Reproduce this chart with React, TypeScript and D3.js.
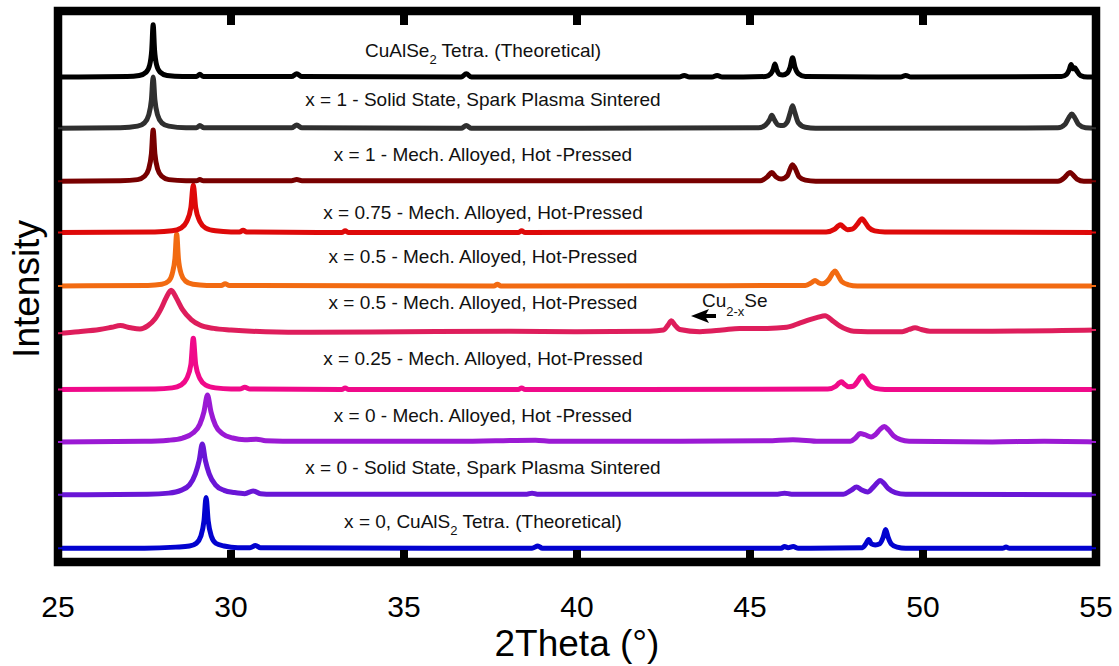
import React from "react";
import * as d3 from "d3";

type Pt = [number, number];

// 2Theta tick labels
const xTicks = [25, 30, 35, 40, 45, 50, 55];

// Series labels (top to bottom)
const labels = [
  "CuAlSe|2| Tetra. (Theoretical)",
  "x = 1 - Solid State, Spark Plasma Sintered",
  "x = 1 - Mech. Alloyed, Hot -Pressed",
  "x = 0.75 - Mech. Alloyed, Hot-Pressed",
  "x = 0.5 - Mech. Alloyed, Hot-Pressed",
  "x = 0.5 - Mech. Alloyed, Hot-Pressed",
  "x = 0.25 - Mech. Alloyed, Hot-Pressed",
  "x = 0 - Mech. Alloyed, Hot -Pressed",
  "x = 0 - Solid State, Spark Plasma Sintered",
  "x = 0, CuAlS|2| Tetra. (Theoretical)",
];

const colors = [
  "#000000", "#303030", "#780000", "#de0a0a", "#f26b12",
  "#de1e5c", "#f00a8a", "#9b1ad4", "#6a16d6", "#0303cf",
];

// vertical offsets (a.u.) of each pattern
const offsets = [880, 787, 691, 598, 501, 416, 313, 218, 122, 25];
// label positions in same a.u. (baseline of text)
const labelY = [916, 828, 727, 623, 543, 459, 357, 254, 160, 62];

const cuAlSe2Theo: Pt[] = [
  [25, 0], [27.0, 1], [27.35, 3], [27.55, 9], [27.65, 22], [27.71, 50], [27.75, 95], [27.79, 50], [27.85, 22], [27.95, 9], [28.15, 3], [28.6, 1],
  [29.0, 1], [29.1, 5], [29.2, 1], [31.75, 1], [31.9, 6], [32.05, 1], [36.65, 0], [36.8, 6], [36.95, 0],
  [42.95, 0], [43.1, 3], [43.25, 0], [43.9, 0], [44.05, 3], [44.2, 0],
  [45.45, 1], [45.6, 6], [45.67, 14], [45.72, 24], [45.77, 14], [45.85, 5], [45.95, 4], [46.07, 7], [46.16, 18], [46.23, 35], [46.3, 18], [46.4, 6], [46.6, 1],
  [49.35, 0], [49.5, 3], [49.65, 0],
  [54.0, 1], [54.15, 5], [54.23, 14], [54.28, 23], [54.34, 15], [54.39, 17], [54.44, 12], [54.55, 3], [54.75, 0], [55, 0],
];

const x1SSPS: Pt[] = [
  [25, 0], [26.8, 1], [27.3, 4], [27.5, 10], [27.62, 24], [27.7, 52], [27.75, 93], [27.8, 52], [27.88, 24], [28.0, 10], [28.2, 4], [28.7, 1],
  [29.0, 1], [29.1, 5], [29.22, 1], [31.75, 1], [31.9, 6], [32.05, 1], [36.65, 0], [36.8, 5], [36.95, 0],
  [45.25, 1], [45.45, 6], [45.57, 16], [45.63, 24], [45.7, 16], [45.82, 6], [45.95, 5], [46.08, 12], [46.17, 30], [46.23, 41], [46.29, 30], [46.4, 10], [46.6, 2], [46.9, 0],
  [53.9, 1], [54.1, 7], [54.22, 20], [54.3, 26], [54.38, 20], [54.5, 7], [54.7, 1], [55, 0],
];

const x1MAHP: Pt[] = [
  [25, 0], [26.8, 1], [27.3, 3], [27.5, 9], [27.62, 22], [27.7, 50], [27.75, 93], [27.8, 50], [27.88, 22], [28.0, 9], [28.2, 3], [28.7, 1],
  [29.0, 1], [29.1, 3], [29.2, 1], [31.75, 1], [31.9, 3], [32.05, 1],
  [45.3, 1], [45.5, 8], [45.63, 16], [45.75, 8], [45.9, 4], [46.08, 10], [46.17, 24], [46.23, 30], [46.3, 24], [46.42, 8], [46.6, 2], [46.9, 0],
  [53.9, 0], [54.08, 6], [54.18, 13], [54.25, 16], [54.33, 12], [54.45, 4], [54.65, 0], [55, 0],
];

const x075MAHP: Pt[] = [
  [25, 0], [27.8, 1], [28.3, 3], [28.55, 8], [28.72, 20], [28.84, 45], [28.91, 86], [28.98, 45], [29.1, 20], [29.27, 8], [29.55, 3], [30.0, 1],
  [30.25, 1], [30.35, 4], [30.45, 1], [33.2, 0], [33.3, 3], [33.4, 0], [38.3, 0], [38.4, 3], [38.5, 0],
  [47.2, 1], [47.45, 6], [47.55, 12], [47.62, 14], [47.7, 10], [47.82, 5], [47.95, 6], [48.1, 15], [48.18, 22], [48.24, 25], [48.31, 20], [48.43, 9], [48.6, 3], [48.9, 1], [55, 0],
];

const x05MAHPa: Pt[] = [
  [25, 0], [27.6, 1], [28.0, 3], [28.2, 9], [28.3, 22], [28.38, 50], [28.43, 94], [28.48, 50], [28.56, 22], [28.68, 9], [28.9, 3], [29.3, 1],
  [29.72, 1], [29.83, 4], [29.95, 1], [37.6, 0], [37.7, 3], [37.8, 0],
  [46.6, 1], [46.78, 6], [46.88, 10], [46.98, 6], [47.1, 4], [47.28, 12], [47.4, 24], [47.46, 27], [47.52, 22], [47.65, 8], [47.85, 2], [48.1, 0], [55, 0],
];

const x05MAHPb: Pt[] = [
  [25, -1], [25.6, 2], [26.2, 6], [26.55, 10], [26.8, 13], [27.1, 9], [27.37, 7], [27.6, 13], [27.8, 25], [27.98, 44], [28.13, 64], [28.27, 77], [28.42, 63], [28.6, 42], [28.85, 24], [29.1, 14], [29.5, 8], [30.0, 5], [31.0, 2], [32.3, 1],
  [35, 2], [38, 3], [40, 2], [42.1, 3], [42.5, 5], [42.63, 14], [42.73, 22], [42.83, 14], [42.97, 6], [43.55, 2], [44.2, 5], [44.7, 8], [45.5, 8],
  [46.06, 10], [46.45, 18], [46.73, 24], [46.95, 28], [47.17, 31], [47.38, 22], [47.6, 12], [48.0, 3], [48.8, 2], [49.4, 2], [49.6, 6], [49.77, 9], [49.95, 6], [50.2, 3], [52, 3], [55, 5],
];

const x025MAHP: Pt[] = [
  [25, 0], [27.8, 1], [28.3, 3], [28.55, 8], [28.72, 20], [28.84, 45], [28.91, 93], [28.98, 45], [29.1, 20], [29.27, 8], [29.55, 3], [30.0, 1],
  [30.25, 1], [30.4, 4], [30.55, 1], [33.2, 0], [33.3, 3], [33.4, 0], [38.3, 0], [38.4, 3], [38.5, 0],
  [47.25, 1], [47.48, 6], [47.58, 12], [47.65, 14], [47.72, 10], [47.85, 5], [47.98, 6], [48.12, 16], [48.2, 23], [48.25, 25], [48.32, 20], [48.45, 8], [48.62, 2], [48.9, 0], [55, 0],
];

const x0MAHP: Pt[] = [
  [25, 0], [27.5, 1], [28.2, 3], [28.6, 7], [28.9, 16], [29.1, 32], [29.22, 55], [29.32, 85], [29.42, 55], [29.55, 30], [29.75, 15], [30.05, 7], [30.4, 4],
  [30.74, 5], [31.0, 2], [32, 1], [36.5, 1], [38.8, 3], [39.3, 1], [43.0, 1], [45.5, 2], [46.24, 4], [47, 1],
  [47.9, 1], [48.05, 7], [48.18, 15], [48.32, 13], [48.5, 9], [48.62, 13], [48.75, 22], [48.88, 28], [49.0, 22], [49.15, 11], [49.35, 4], [49.6, 1], [52, 0], [53.5, 1], [55, 0],
];

const x0SSPS: Pt[] = [
  [25, 0], [27.6, 1], [28.2, 3], [28.55, 8], [28.8, 18], [28.97, 38], [29.08, 62], [29.17, 92], [29.26, 62], [29.37, 38], [29.55, 18], [29.8, 8], [30.1, 4], [30.4, 2],
  [30.64, 7], [30.85, 2], [31.2, 1], [38.55, 1], [38.7, 3], [38.85, 1], [45.8, 1], [46.0, 3], [46.2, 1],
  [47.7, 1], [47.92, 8], [48.08, 14], [48.22, 9], [48.4, 5], [48.55, 13], [48.68, 22], [48.76, 26], [48.85, 22], [49.0, 11], [49.2, 4], [49.5, 1], [55, 0],
];

const cuAlS2Theo: Pt[] = [
  [25, 0], [27.5, 0], [28.4, 2], [28.8, 4], [29.0, 9], [29.13, 22], [29.22, 50], [29.28, 92], [29.34, 50], [29.43, 22], [29.56, 9], [29.8, 4], [30.2, 1],
  [30.55, 1], [30.71, 5], [30.85, 1], [38.7, 0], [38.87, 4], [39.0, 0], [45.9, 0], [46.0, 3], [46.1, 1], [46.25, 3], [46.4, 0],
  [48.25, 1], [48.35, 8], [48.43, 16], [48.51, 8], [48.62, 6], [48.75, 8], [48.85, 20], [48.92, 34], [48.99, 20], [49.08, 8], [49.25, 2], [49.5, 0],
  [52.3, 0], [52.4, 2], [52.5, 0], [55, 0],
];

const series: Pt[][] = [
  cuAlSe2Theo, x1SSPS, x1MAHP, x075MAHP, x05MAHPa, x05MAHPb, x025MAHP, x0MAHP, x0SSPS, cuAlS2Theo,
];

const W = 1119;
const H = 666;
const L = 58, R = 1096, T = 11, B = 562;
const FONT = "'Liberation Sans', Arial, Helvetica, sans-serif";

function Label({ text, x, y }: { text: string; x: number; y: number }) {
  const parts = text.split("|");
  return (
    <text x={x} y={y} textAnchor="middle" fontSize={19} fontFamily={FONT} fill="#111">
      {parts.map((p, i) =>
        i % 2 === 1 ? (
          <tspan key={i} fontSize={13} dy={7}>{p}</tspan>
        ) : (
          <tspan key={i} dy={i === 0 ? 0 : -7}>{p}</tspan>
        )
      )}
    </text>
  );
}

export default function App() {
  const x = d3.scaleLinear().domain([25, 55]).range([L, R]);
  const y = d3.scaleLinear().domain([0, 1000]).range([B, T]);

  const order = d3.range(series.length).reverse();
  const mkLine = (off: number) =>
    d3
      .line<Pt>()
      .x((d) => x(d[0]))
      .y((d) => y(off + d[1]))
      .curve(d3.curveMonotoneX);

  const inner = x.ticks(6).filter((t) => t > 25 && t < 55);

  return (
    <svg width={W} height={H} style={{ position: "absolute", left: 0, top: 0, background: "#fff" }}>
      <defs>
        <clipPath id="plot">
          <rect x={L} y={0} width={R - L} height={B + 4} />
        </clipPath>
      </defs>
      <rect x={0} y={0} width={W} height={H} fill="#fff" />
      <g clipPath="url(#plot)">
        {order.map((i) => (
          <path key={i} d={mkLine(offsets[i])(series[i]) || ""} fill="none" stroke={colors[i]} strokeWidth={5} strokeLinejoin="round" />
        ))}
      </g>
      {/* frame */}
      <rect x={L} y={T} width={R - L} height={B - T} fill="none" stroke="#000" strokeWidth={8.5} />
      {/* thin overlay on frame edges */}
      <g clipPath="url(#plot)">
        {order.map((i) => (
          <path key={i} d={mkLine(offsets[i])(series[i]) || ""} fill="none" stroke={colors[i]} strokeWidth={2} />
        ))}
      </g>
      {/* ticks */}
      {inner.map((t) => (
        <g key={t}>
          <line x1={x(t)} x2={x(t)} y1={T} y2={T + 14} stroke="#000" strokeWidth={8} />
          <line x1={x(t)} x2={x(t)} y1={B} y2={B - 12} stroke="#000" strokeWidth={8} />
        </g>
      ))}
      {xTicks.map((t) => (
        <text key={t} x={x(t)} y={617} textAnchor="middle" fontSize={30} fontFamily={FONT} fill="#000">
          {t}
        </text>
      ))}
      <text x={(L + R) / 2} y={656} textAnchor="middle" fontSize={37} fontFamily={FONT} fill="#000">
        2Theta (°)
      </text>
      <text transform={`translate(38.5,289) rotate(-90)`} textAnchor="middle" fontSize={37} fontFamily={FONT} fill="#000">
        Intensity
      </text>
      {labels.map((lab, i) => (
        <Label key={i} text={lab} x={483} y={y(labelY[i])} />
      ))}
      {/* Cu2-xSe annotation */}
      <text x={702} y={307} fontSize={19} fontFamily={FONT} fill="#111">
        Cu<tspan fontSize={13} dy={9}>2-x</tspan><tspan dy={-9}>Se</tspan>
      </text>
      <line x1={716} x2={700} y1={316} y2={316} stroke="#000" strokeWidth={4} />
      <path d="M691,316 L709,309 L705,316 L709,323 Z" fill="#000" />
    </svg>
  );
}
